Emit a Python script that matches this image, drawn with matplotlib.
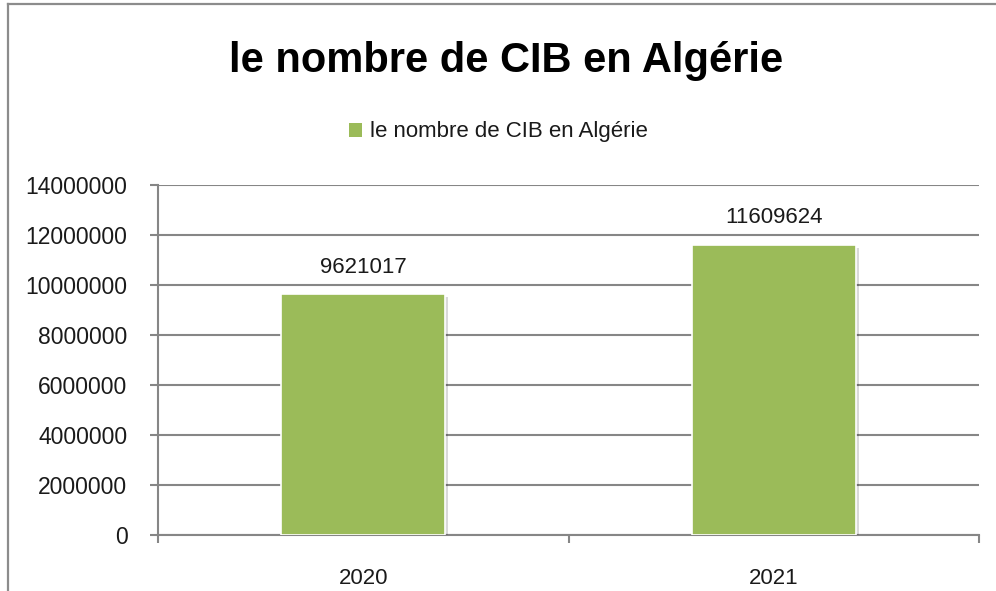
import numpy as np
import matplotlib
matplotlib.use("Agg")
import matplotlib.pyplot as plt
import matplotlib.patheffects as pe
from matplotlib.lines import Line2D
from matplotlib.patches import Patch

plt.rcParams['font.family'] = ['Liberation Sans', 'DejaVu Sans']

# data
annees = ['2020', '2021']
nombre_cib = [9621017, 11609624]
serie = 'le nombre de CIB en Algérie'
titre = 'le nombre de CIB en Algérie'
yticks = np.arange(0, 14000001, 2000000)

vert = '#9BBB59'
gris = '#868686'

fig = plt.figure(figsize=(9.96, 5.91), dpi=100)
ax = fig.add_axes([158/996, 1-535/591, (979-158)/996, (535-185)/591])

x = np.arange(len(annees))
bars = ax.bar(x, nombre_cib, width=0.4, color=vert, edgecolor='white', linewidth=1.2,
              label=serie, zorder=3)
for b in bars:
    b.set_path_effects([pe.SimplePatchShadow(offset=(2, -2), shadow_rgbFace='#000000', alpha=0.15),
                        pe.Normal()])

for xi, v in zip(x, nombre_cib):
    ax.annotate(str(v), (xi, v), xytext=(0, 12), textcoords='offset points',
                ha='center', va='bottom', fontsize=16, color='#1a1a1a')

ax.set_xlim(-0.5, 1.5)
ax.set_ylim(0, 14000000)
ax.set_yticks(yticks)
ax.set_yticklabels([str(t) for t in yticks])
ax.yaxis.grid(True, color=gris, linewidth=1.5, zorder=0)
ax.set_axisbelow(True)

ax.set_xticks(x)
ax.set_xticklabels(annees)
ax.set_xticks([-0.5, 0.5, 1.5], minor=True)
ax.tick_params(axis='x', which='major', length=0, pad=24, labelsize=16, labelcolor='#1a1a1a')
ax.tick_params(axis='x', which='minor', length=6, width=1.5, color=gris, direction='out')
ax.tick_params(axis='y', length=6, width=1.5, color=gris, direction='out', pad=16,
               labelsize=16.5, labelcolor='#1a1a1a')

for s in ['top', 'right']:
    ax.spines[s].set_visible(False)
for s in ['left', 'bottom']:
    ax.spines[s].set_color(gris)
    ax.spines[s].set_linewidth(1.5)

fig.text(0.508, 1-72/591, titre, ha='center', va='baseline', fontsize=30,
         fontweight='bold', color='black')

fig.legend(handles=[Patch(facecolor=vert, edgecolor='none')], labels=[serie], loc='center',
           bbox_to_anchor=(0.5, 1-132/591), frameon=False, fontsize=16,
           handlelength=0.6, handleheight=0.6, handletextpad=0.35, labelcolor='#1a1a1a')

# cadre du graphique
fig.add_artist(Line2D([7.5/996, 7.5/996], [0, 1-4/591], color='#8c8c8c', linewidth=1.6,
                      transform=fig.transFigure))
fig.add_artist(Line2D([7.5/996, 1], [1-4/591, 1-4/591], color='#8c8c8c', linewidth=1.6,
                      transform=fig.transFigure))

fig.savefig('out.png', dpi=100)
